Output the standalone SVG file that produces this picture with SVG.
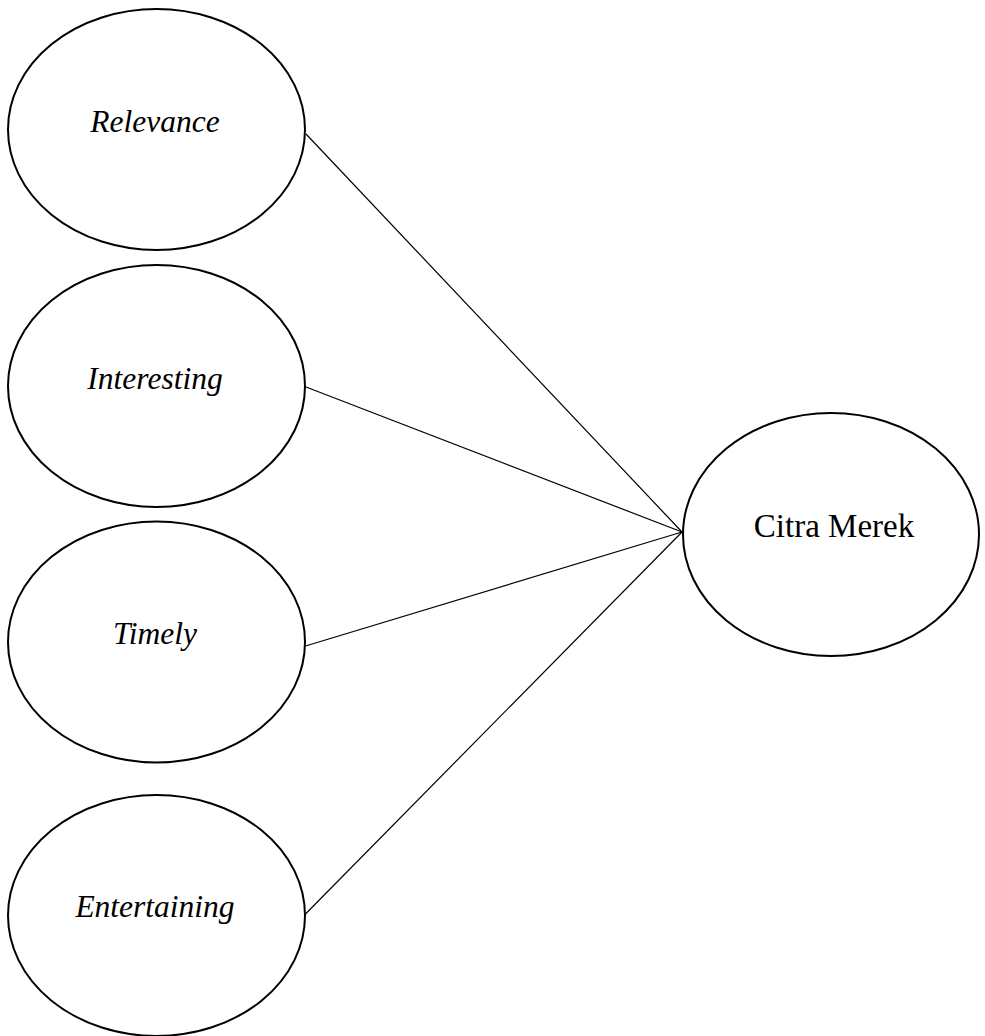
<svg xmlns="http://www.w3.org/2000/svg" width="985" height="1036" viewBox="0 0 985 1036">
<style>
.node ellipse{fill:#fff;stroke:#000;stroke-width:2}
.node text{font-family:"Liberation Serif","Times New Roman",serif;font-size:31.5px;fill:#000;text-anchor:middle}
.it{font-style:italic}
#connectors line{stroke:#000;stroke-width:1.2}
</style>
<rect width="985" height="1036" fill="#fff"/>
<g id="connectors">
<line x1="306" y1="134" x2="682" y2="532"/>
<line x1="306" y1="387" x2="682" y2="532"/>
<line x1="305.5" y1="646" x2="682" y2="532"/>
<line x1="305.5" y1="914" x2="682" y2="532"/>
</g>
<g id="relevance" class="node"><ellipse cx="156.5" cy="129.5" rx="148.5" ry="120.5"/><text class="it" x="155" y="132">Relevance</text></g>
<g id="interesting" class="node"><ellipse cx="156.5" cy="386" rx="148.5" ry="121"/><text class="it" x="155" y="389">Interesting</text></g>
<g id="timely" class="node"><ellipse cx="156.5" cy="642" rx="148.5" ry="120.5"/><text class="it" x="155" y="644">Timely</text></g>
<g id="entertaining" class="node"><ellipse cx="156.5" cy="915.5" rx="148.5" ry="120.5"/><text class="it" x="155" y="917">Entertaining</text></g>
<g id="citra-merek" class="node"><ellipse cx="831" cy="534.5" rx="148" ry="121.5"/><text x="834" y="537" style="font-size:33px">Citra Merek</text></g>
</svg>
